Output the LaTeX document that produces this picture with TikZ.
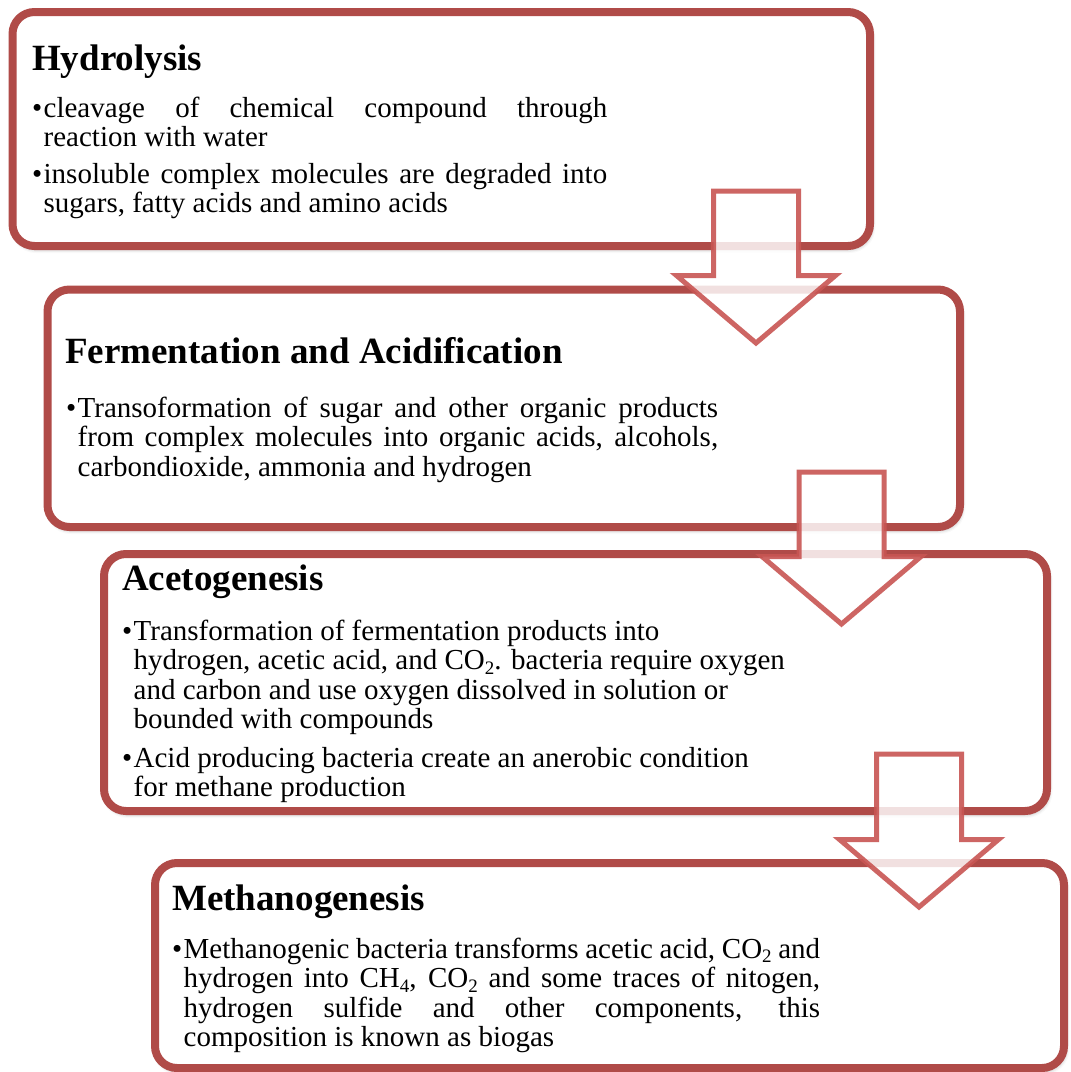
\documentclass[tikz,border=0pt]{standalone}
\usepackage{fontspec}
\setmainfont{Liberation Serif}
\usetikzlibrary{shadows.blur}

\definecolor{stageborder}{RGB}{176,75,72}
\definecolor{arrowline}{RGB}{200,85,83}

% bullet paragraph: width, alignment settings, text (wrapped lines hang under the text)
\newcommand\bulletpar[3]{\parbox[t]{#1}{#2\hangindent=11.5pt\hangafter=1\relax
  \noindent\makebox[11.5pt][l]{\textbullet}#3\par}}
% ragged right lines for a paragraph
\newcommand\raggedpara{\rightskip=0pt plus 1fil\relax}
% lowered small digit for chemical formulas
\newcommand\chemsub[1]{\raisebox{-4.5pt}{\fontsize{19}{19}\selectfont #1}}

\begin{document}
\tolerance=10000
\hyphenpenalty=10000
\lineskiplimit=-20pt
\begin{tikzpicture}[x=1pt,y=-1pt,
  stagebox/.style={draw=stageborder, line width=8pt, fill=white, rounded corners=22pt,
    blur shadow={shadow xshift=1.5pt, shadow yshift=-3pt, shadow blur radius=4pt, shadow opacity=35}},
  flowarrow/.style={draw=arrowline, draw opacity=0.9, line width=5pt, fill=white,
    fill opacity=0.83, line join=miter},
  stagetitle/.style={anchor=base west, inner sep=0pt, font=\fontsize{37}{40}\selectfont\bfseries},
  stagetext/.style={anchor=base west, inner sep=0pt, font=\fontsize{29}{29.5}\selectfont}
]
\useasboundingbox (0,0) rectangle (1071,1072);

% stage boxes
\path[stagebox] (12.5,12) rectangle (870,246);
\path[stagebox] (47.5,289.5) rectangle (960,527);
\path[stagebox] (104,554) rectangle (1047,811);
\path[stagebox] (155,863) rectangle (1064,1068);

% Hydrolysis
\node[stagetitle] (t1) at (32,70) {Hydrolysis};
\node[stagetext] (t1a) at (32,117) {\bulletpar{575pt}{}{cleavage of chemical compound through\linebreak reaction with water}};
\node[stagetext] (t1b) at (32,183) {\bulletpar{575pt}{}{insoluble complex molecules are degraded into\linebreak sugars, fatty acids and amino acids}};

% Fermentation and Acidification
\node[stagetitle] (t2) at (65,363) {Fermentation and Acidification};
\node[stagetext] (t2a) at (66,417) {\bulletpar{652pt}{}{Transoformation of sugar and other organic products\linebreak from complex molecules into organic acids, alcohols,\linebreak carbondioxide, ammonia and hydrogen}};

% Acetogenesis
\node[stagetitle] (t3) at (122,590) {Acetogenesis};
\node[stagetext] (t3a) at (122,640) {\bulletpar{730pt}{\raggedpara}{Transformation of fermentation products into\linebreak hydrogen, acetic acid, and CO\chemsub{2}. bacteria require oxygen\linebreak and carbon and use oxygen dissolved in solution or\linebreak bounded with compounds}};
\node[stagetext] (t3b) at (122,767) {\bulletpar{730pt}{\raggedpara}{Acid producing bacteria create an anerobic condition\linebreak for methane production}};

% Methanogenesis
\node[stagetitle] (t4) at (172,910) {Methanogenesis};
\node[stagetext] (t4a) at (172,958) {\bulletpar{648pt}{}{Methanogenic bacteria transforms acetic acid, CO\chemsub{2} and\linebreak hydrogen into CH\chemsub{4}, CO\chemsub{2} and some traces of nitogen,\linebreak hydrogen sulfide and other components, this\linebreak composition is known as biogas}};

% block arrows between stages
\path[flowarrow] (713.5,191) -- (798.5,191) -- (798.5,275.5) -- (835.5,275.5) -- (756,343)
  -- (676.5,275.5) -- (713.5,275.5) -- cycle;
\path[flowarrow] (799,472) -- (884,472) -- (884,556.5) -- (921,556.5) -- (841.5,624)
  -- (762,556.5) -- (799,556.5) -- cycle;
\path[flowarrow] (876.5,754) -- (961.5,754) -- (961.5,839.5) -- (998.5,839.5) -- (919,907)
  -- (839.5,839.5) -- (876.5,839.5) -- cycle;
\end{tikzpicture}
\end{document}
